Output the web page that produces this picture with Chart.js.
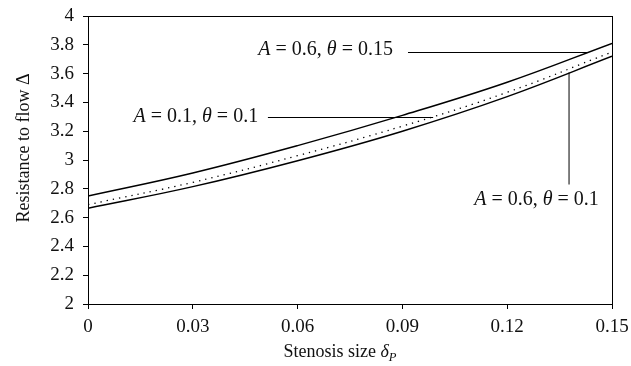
<!DOCTYPE html>
<html>
<head>
<meta charset="utf-8">
<script src="https://cdn.jsdelivr.net/npm/chart.js@4.4.1/dist/chart.umd.min.js"></script>
<style>
  html, body { margin: 0; padding: 0; background: #fff; }
  #wrap { width: 631px; height: 366px; position: relative; }
</style>
</head>
<body>
<div id="wrap"><canvas id="chart"></canvas></div>
<script>
// values
const stenosisSize = [0, 0.03, 0.06, 0.09, 0.12, 0.15];
const resistA06T015 = [2.75, 2.91, 3.10, 3.31, 3.54, 3.81];
const resistA01T01 = [2.69, 2.845, 3.03, 3.235, 3.47, 3.75];
const resistA06T01 = [2.665, 2.815, 2.995, 3.20, 3.44, 3.72];

const xTickValues = [0, 0.03, 0.06, 0.09, 0.12, 0.15];
const yTickValues = [2, 2.2, 2.4, 2.6, 2.8, 3, 3.2, 3.4, 3.6, 3.8, 4];

const FONT = "'Liberation Serif', serif";

function toPoints(ys) {
    return stenosisSize.map((x, i) => ({ x: x, y: ys[i] }));
}

// rich text: segments with optional italic / subscript
function drawRich(ctx, segs, x, y, size, align) {
    let total = 0;
    const parts = segs.map(s => {
        const fs = s.sub ? size * 0.7 : size;
        ctx.font = (s.i ? 'italic ' : '') + fs + 'px ' + FONT;
        const w = ctx.measureText(s.t).width;
        total += w;
        return { s: s, fs: fs, w: w };
    });
    let cx = x;
    if (align === 'right') cx = x - total;
    if (align === 'center') cx = x - total / 2;
    parts.forEach(p => {
        ctx.font = (p.s.i ? 'italic ' : '') + p.fs + 'px ' + FONT;
        ctx.fillText(p.s.t, cx, p.s.sub ? y + size * 0.22 : y);
        cx += p.w;
    });
}

const annotations = [
    { text: [{ t: 'A', i: true }, { t: ' = 0.6, ' }, { t: 'θ', i: true }, { t: ' = 0.15' }],
      at: [0.0873, 3.729], align: 'right', line: [[0.0916, 3.75], [0.1431, 3.75]] },
    { text: [{ t: 'A', i: true }, { t: ' = 0.1, ' }, { t: 'θ', i: true }, { t: ' = 0.1' }],
      at: [0.0487, 3.266], align: 'right', line: [[0.0515, 3.30], [0.0988, 3.30]] },
    { text: [{ t: 'A', i: true }, { t: ' = 0.6, ' }, { t: 'θ', i: true }, { t: ' = 0.1' }],
      at: [0.1284, 2.688], align: 'center', line: [[0.1377, 2.833], [0.1377, 3.611]] }
];

const decorPlugin = {
    id: 'decor',
    afterDatasetsDraw(chart) {
        const ctx = chart.ctx;
        const xs = chart.scales.x, ys = chart.scales.y;
        const a = chart.chartArea;
        ctx.save();
        ctx.strokeStyle = '#000';
        ctx.lineWidth = 1;
        ctx.strokeRect(Math.round(a.left) + 0.5, Math.round(a.top) + 0.5,
            Math.round(a.right - a.left), Math.round(a.bottom - a.top));

        ctx.fillStyle = '#111';
        ctx.textBaseline = 'alphabetic';
        annotations.forEach(an => {
            ctx.beginPath();
            ctx.moveTo(xs.getPixelForValue(an.line[0][0]), Math.round(ys.getPixelForValue(an.line[0][1])) + 0.5);
            ctx.lineTo(xs.getPixelForValue(an.line[1][0]), Math.round(ys.getPixelForValue(an.line[1][1])) + 0.5);
            ctx.stroke();
            drawRich(ctx, an.text, xs.getPixelForValue(an.at[0]), ys.getPixelForValue(an.at[1]), 20, an.align);
        });

        // axis titles
        const midX = (a.left + a.right) / 2 - 10;
        drawRich(ctx, [{ t: 'Stenosis size ' }, { t: 'δ', i: true }, { t: 'P', i: true, sub: true }],
            midX, 357, 18, 'center');
        ctx.translate(29, (a.top + a.bottom) / 2 - 12);
        ctx.rotate(-Math.PI / 2);
        drawRich(ctx, [{ t: 'Resistance to flow Δ' }], 0, 0, 18, 'center');
        ctx.restore();
    }
};

function makeSet(label, ys, dashed) {
    return {
        label: label,
        data: toPoints(ys),
        borderColor: '#000',
        borderWidth: dashed ? 1.3 : 1.5,
        borderDash: dashed ? [1.3, 5] : [],
        pointRadius: 0,
        tension: 0.4,
        fill: false
    };
}

new Chart(document.getElementById('chart'), {
    type: 'line',
    data: {
        datasets: [
            makeSet('A = 0.6, θ = 0.15', resistA06T015, false),
            makeSet('A = 0.1, θ = 0.1', resistA01T01, true),
            makeSet('A = 0.6, θ = 0.1', resistA06T01, false)
        ]
    },
    options: {
        responsive: true,
        maintainAspectRatio: false,
        animation: false,
        layout: { padding: { top: 16, right: 19, left: 0, bottom: 0 } },
        plugins: { legend: { display: false }, tooltip: { enabled: false } },
        scales: {
            x: {
                type: 'linear',
                min: 0,
                max: 0.15,
                afterBuildTicks: s => { s.ticks = xTickValues.map(v => ({ value: v })); },
                afterFit: s => { s.height = 62; s.paddingLeft = 0; s.paddingRight = 0; },
                ticks: {
                    color: '#111',
                    font: { family: FONT, size: 19 },
                    padding: 7,
                    maxRotation: 0,
                    callback: v => String(v)
                },
                grid: { drawOnChartArea: false, tickLength: 5, tickColor: '#000' },
                border: { color: '#000', width: 1 }
            },
            y: {
                min: 2,
                max: 4,
                afterBuildTicks: s => { s.ticks = yTickValues.map(v => ({ value: v })); },
                afterFit: s => { s.width = 88; s.paddingTop = 0; s.paddingBottom = 0; },
                ticks: {
                    color: '#111',
                    font: { family: FONT, size: 19 },
                    padding: 9,
                    callback: v => String(v)
                },
                grid: { drawOnChartArea: false, tickLength: 5, tickColor: '#000' },
                border: { color: '#000', width: 1 }
            }
        }
    },
    plugins: [decorPlugin]
});
</script>
</body>
</html>
